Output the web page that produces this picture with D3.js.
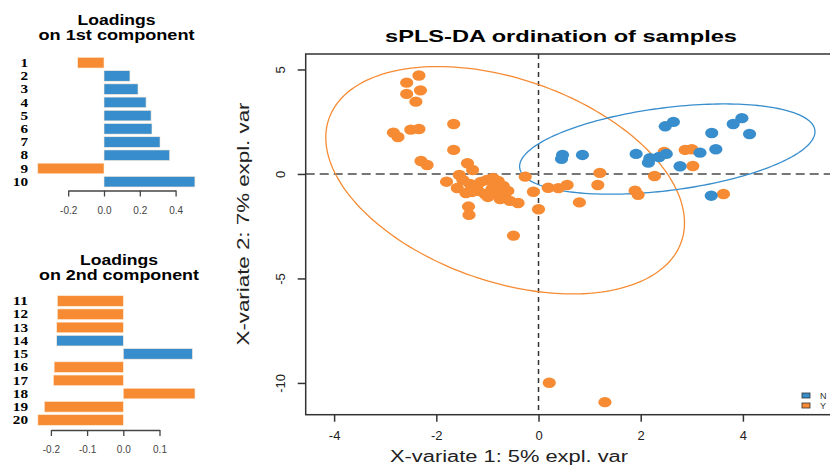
<!DOCTYPE html>
<html>
<head>
<meta charset="utf-8">
<script src="https://cdn.jsdelivr.net/npm/d3@7"></script>
<style>
  body { margin: 0; background: #fff; }
  svg { display: block; font-family: "Liberation Sans", Arial, sans-serif; }
</style>
</head>
<body>
<div id="graf"></div>
<script>
// datos: cargas de cada componente
const comp1Vars = ["1", "2", "3", "4", "5", "6", "7", "8", "9", "10"];
const comp1Vals = [-0.147, 0.145, 0.19, 0.235, 0.263, 0.268, 0.313, 0.367, -0.37, 0.508];
const comp1Grupo = ["Y", "N", "N", "N", "N", "N", "N", "N", "Y", "N"];

const comp2Vars = ["11", "12", "13", "14", "15", "16", "17", "18", "19", "20"];
const comp2Vals = [-0.182, -0.182, -0.184, -0.184, 0.191, -0.191, -0.193, 0.198, -0.218, -0.236];
const comp2Grupo = ["Y", "Y", "Y", "N", "N", "Y", "Y", "Y", "Y", "Y"];

const ticksComp1 = [-0.2, 0, 0.2, 0.4];
const ticksComp2 = [-0.2, -0.1, 0, 0.1];

// muestras (X-variate 1, X-variate 2)
const muestrasY = [
  [-2.34, 4.71], [-2.58, 4.37], [-2.58, 3.83], [-2.31, 4.0], [-2.4, 3.46],
  [-2.84, 1.98], [-2.75, 1.77], [-2.5, 2.12], [-2.34, 2.15], [-1.66, 2.39],
  [-1.66, 1.15], [-2.3, 0.62], [-2.18, 0.43], [-1.39, 0.51], [-1.29, 0.19],
  [-1.55, -0.05], [-1.8, -0.37], [-1.48, -0.29], [-1.34, -0.48], [-1.22, -0.62],
  [-1.13, -0.38], [-1.01, -0.29], [-0.89, -0.19], [-0.79, -0.33], [-0.69, -0.57],
  [-1.18, -0.81], [-1.05, -0.96], [-0.91, -0.72], [-0.81, -0.91], [-0.66, -1.0],
  [-0.56, -1.29], [-0.4, -1.39], [-0.75, -1.2], [-0.99, -1.1], [-1.3, -0.86],
  [-1.59, -0.67], [-1.42, -0.91], [-0.85, -0.53], [-0.6, -0.81], [-1.37, -1.56],
  [-1.36, -1.96], [-0.49, -2.95], [-0.26, -0.13], [-0.1, -0.85], [0.0, -1.69],
  [0.19, -0.66], [0.39, -0.68], [0.56, -0.53], [0.8, -1.36], [1.16, -0.53],
  [1.2, 0.05], [1.89, -0.8], [1.95, -1.0], [2.27, -0.1], [2.46, 1.05],
  [2.87, 1.15], [3.0, 1.18], [3.02, 0.38], [3.62, -0.96], [0.21, -9.99],
  [1.3, -10.92]
];
const muestrasN = [
  [0.47, 0.91], [0.45, 0.72], [0.86, 0.91], [1.91, 0.96], [2.18, 0.75],
  [2.15, 0.54], [2.36, 0.81], [2.5, 0.96], [2.77, 0.37], [2.48, 2.28],
  [2.64, 2.49], [3.39, 1.96], [3.47, 1.18], [3.16, 1.02], [3.81, 2.39],
  [3.98, 2.67], [4.13, 1.91], [3.38, -1.04]
];

// elipses de confianza: centro, desviaciones y correlacion
const elipseY = { cx: -0.653, cy: -0.3, sx: 3.51, sy: 5.44, r: -0.375 };
const elipseN = { cx: 2.52, cy: 1.19, sx: 2.89, sy: 2.16, r: 0.385 };

const ticksX = [-4, -2, 0, 2, 4];
const ticksY = [5, 0, -5, -10];

const colores = { N: "#388ECC", Y: "#F68B33" };

const svg = d3.select("#graf")
  .append("svg")
  .attr("width", 830)
  .attr("height", 466);

// ---------- graficas de cargas ----------
const cargas = (vars, vals, grupo, ticks, cfg) => {
  const g = svg.append("g");

  g.append("text")
    .attr("x", cfg.cx).attr("y", cfg.titY)
    .attr("text-anchor", "middle")
    .attr("font-weight", "bold").attr("font-size", 14)
    .attr("textLength", 78).attr("lengthAdjust", "spacingAndGlyphs")
    .text("Loadings");
  g.append("text")
    .attr("x", cfg.cx).attr("y", cfg.titY + 14.5)
    .attr("text-anchor", "middle")
    .attr("font-weight", "bold").attr("font-size", 14)
    .attr("textLength", cfg.subW).attr("lengthAdjust", "spacingAndGlyphs")
    .text(cfg.sub);

  const y = d3.scaleBand().domain(vars).range(cfg.yRange)
    .paddingInner(0.2).paddingOuter(0.1);
  const x = d3.scaleLinear().domain(cfg.xDom).range(cfg.xRange);

  g.selectAll("rect.bar")
    .data(vals)
    .enter()
    .append("rect")
    .attr("class", "bar")
    .attr("x", (d) => x(Math.min(0, d)))
    .attr("y", (d, i) => y(vars[i]))
    .attr("width", (d) => Math.abs(x(d) - x(0)))
    .attr("height", y.bandwidth())
    .attr("fill", (d, i) => colores[grupo[i]])
    .attr("stroke", "#fde9d6")
    .attr("stroke-width", 0.6);

  g.selectAll("text.var")
    .data(vars)
    .enter()
    .append("text")
    .attr("class", "var")
    .attr("x", cfg.labX)
    .attr("y", (d) => y(d) + y.bandwidth() / 2)
    .attr("dy", "0.35em")
    .attr("text-anchor", "end")
    .attr("font-family", "'Liberation Serif', 'Times New Roman', serif")
    .attr("font-weight", "bold")
    .attr("font-size", 12)
    .attr("textLength", (d) => d.length * 7.6)
    .attr("lengthAdjust", "spacingAndGlyphs")
    .text((d) => d);

  const eje = g.append("g")
    .attr("transform", `translate(0, ${cfg.axisY})`)
    .call(d3.axisBottom(x).tickValues(ticks).tickSize(6).tickSizeOuter(0)
      .tickFormat((d) => d.toFixed(1)));
  eje.select(".domain").attr("stroke", "#444").attr("stroke-width", 1.3);
  eje.selectAll(".tick line").attr("stroke", "#444").attr("stroke-width", 1.3);
  eje.selectAll(".tick text")
    .attr("y", 16).attr("fill", "#444")
    .attr("font-size", 10).attr("font-family", "'Liberation Sans', Arial, sans-serif");
};

cargas(comp1Vars, comp1Vals, comp1Grupo, ticksComp1, {
  cx: 116.5, titY: 25, sub: "on 1st component", subW: 156,
  yRange: [56.1, 188.3], xDom: [-0.2, 0.4], xRange: [68.2, 175.6],
  labX: 28, axisY: 190.5
});
cargas(comp2Vars, comp2Vals, comp2Grupo, ticksComp2, {
  cx: 119, titY: 265, sub: "on 2nd component", subW: 160,
  yRange: [294.4, 426.6], xDom: [-0.2, 0.1], xRange: [50.9, 159.5],
  labX: 28, axisY: 430
});

// ---------- ordenacion de muestras ----------
const area = { left: 305.7, top: 54, right: 840, bottom: 414.7 };

const x = d3.scaleLinear().domain([-4.556, 5.9]).range([area.left, area.right]);
const y = d3.scaleLinear().domain([-11.52, 5.74]).range([area.bottom, area.top]);

const g = svg.append("g");

g.append("text")
  .attr("x", 561).attr("y", 42)
  .attr("text-anchor", "middle")
  .attr("font-weight", "bold").attr("font-size", 17)
  .attr("textLength", 352).attr("lengthAdjust", "spacingAndGlyphs")
  .text("sPLS-DA ordination of samples");

// lineas de referencia
g.append("line")
  .attr("x1", x(0)).attr("x2", x(0))
  .attr("y1", area.top).attr("y2", area.bottom)
  .attr("stroke", "#333").attr("stroke-width", 1.5)
  .attr("stroke-dasharray", "5,4");
g.append("line")
  .attr("x1", area.left).attr("x2", area.right)
  .attr("y1", y(0)).attr("y2", y(0))
  .attr("stroke", "#777").attr("stroke-width", 2)
  .attr("stroke-dasharray", "9,5");

// elipses
const elipse = (e) => d3.range(0, 201).map((i) => {
  const t = (i / 200) * 2 * Math.PI;
  return [
    x(e.cx + e.sx * Math.cos(t)),
    y(e.cy + e.sy * (e.r * Math.cos(t) + Math.sqrt(1 - e.r * e.r) * Math.sin(t)))
  ];
});
const linea = d3.line();

g.append("path")
  .attr("d", linea(elipse(elipseY)))
  .attr("fill", "none").attr("stroke", colores.Y).attr("stroke-width", 1.3);
g.append("path")
  .attr("d", linea(elipse(elipseN)))
  .attr("fill", "none").attr("stroke", colores.N).attr("stroke-width", 1.3);

// puntos
g.selectAll("ellipse.y")
  .data(muestrasY)
  .enter()
  .append("ellipse")
  .attr("class", "y")
  .attr("cx", (d) => x(d[0])).attr("cy", (d) => y(d[1]))
  .attr("rx", 6.6).attr("ry", 5.2)
  .attr("fill", colores.Y);
g.selectAll("ellipse.n")
  .data(muestrasN)
  .enter()
  .append("ellipse")
  .attr("class", "n")
  .attr("cx", (d) => x(d[0])).attr("cy", (d) => y(d[1]))
  .attr("rx", 6.6).attr("ry", 5.2)
  .attr("fill", colores.N);

// marco
g.append("rect")
  .attr("x", area.left).attr("y", area.top)
  .attr("width", area.right - area.left).attr("height", area.bottom - area.top)
  .attr("fill", "none").attr("stroke", "#333").attr("stroke-width", 1.5);

// ejes
const ejeX = g.append("g")
  .attr("transform", `translate(0, ${area.bottom})`)
  .call(d3.axisBottom(x).tickValues(ticksX).tickSize(7).tickSizeOuter(0).tickFormat((d) => d));
ejeX.select(".domain").remove();
ejeX.selectAll(".tick line").attr("stroke", "#333").attr("stroke-width", 1.5);
ejeX.selectAll(".tick text")
  .attr("y", 16).attr("fill", "#222").attr("font-size", 13)
  .attr("font-family", "'Liberation Sans', Arial, sans-serif");

const ejeY = g.append("g")
  .attr("transform", `translate(${area.left}, 0)`)
  .call(d3.axisLeft(y).tickValues(ticksY).tickSize(8).tickSizeOuter(0).tickFormat((d) => d));
ejeY.select(".domain").remove();
ejeY.selectAll(".tick line").attr("stroke", "#333").attr("stroke-width", 1.5);
ejeY.selectAll(".tick text")
  .attr("transform", "rotate(-90)")
  .attr("x", 0).attr("y", -21).attr("dy", null)
  .attr("text-anchor", "middle")
  .attr("fill", "#222").attr("font-size", 13)
  .attr("font-family", "'Liberation Sans', Arial, sans-serif");

// etiquetas de ejes
g.append("text")
  .attr("x", 509).attr("y", 462)
  .attr("text-anchor", "middle").attr("font-size", 16).attr("fill", "#222")
  .attr("textLength", 238).attr("lengthAdjust", "spacingAndGlyphs")
  .text("X-variate 1: 5% expl. var");
g.append("text")
  .attr("transform", "translate(249, 224) rotate(-90)")
  .attr("text-anchor", "middle").attr("font-size", 17).attr("fill", "#222")
  .attr("textLength", 243).attr("lengthAdjust", "spacingAndGlyphs")
  .text("X-variate 2: 7% expl. var");

// leyenda
const leyenda = g.append("g").attr("transform", "translate(802, 393)");
["N", "Y"].forEach((k, i) => {
  leyenda.append("rect")
    .attr("x", 0).attr("y", i * 10)
    .attr("width", 8).attr("height", 5)
    .attr("fill", colores[k]).attr("stroke", "#333").attr("stroke-width", 0.8);
  leyenda.append("text")
    .attr("x", 18).attr("y", i * 10 + 2.5).attr("dy", "0.35em")
    .attr("font-size", 9).attr("fill", "#333")
    .text(k);
});
</script>
</body>
</html>
